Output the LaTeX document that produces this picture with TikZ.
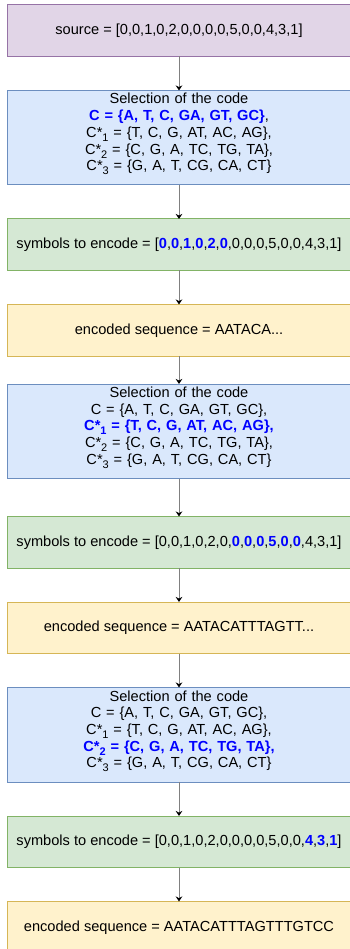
\documentclass[tikz,border=0pt]{standalone}
\usepackage{fontspec}
\setmainfont{Liberation Sans}
\usetikzlibrary{positioning,arrows.meta}

\definecolor{srcfill}{HTML}{E1D5E7}
\definecolor{srcline}{HTML}{9673A6}
\definecolor{selfill}{HTML}{DAE8FC}
\definecolor{selline}{HTML}{6C8EBF}
\definecolor{symfill}{HTML}{D5E8D4}
\definecolor{symline}{HTML}{82B366}
\definecolor{encfill}{HTML}{FFF2CC}
\definecolor{encline}{HTML}{D6B656}
\definecolor{codeblue}{HTML}{0000FF}
\definecolor{arrowgray}{HTML}{808080}

\newcommand{\hiblue}[1]{\textcolor{codeblue}{\textbf{#1}}}
\newcommand{\lowidx}[1]{\raisebox{-4pt}{\fontsize{11pt}{11pt}\selectfont #1}}

\tikzset{
  box/.style={draw,line width=1pt,outer sep=0pt,minimum width=344pt,minimum height=51.5pt,inner sep=2pt,
    font=\fontsize{14.6pt}{16.7pt}\selectfont},
  srcbox/.style={box,fill=srcfill,draw=srcline},
  selbox/.style={box,fill=selfill,draw=selline,inner ysep=0pt,text height=13.5pt,text depth=81pt,
    text width=338pt,align=center},
  symbox/.style={box,fill=symfill,draw=symline},
  encbox/.style={box,fill=encfill,draw=encline}
}

\begin{document}
\begin{tikzpicture}[->,>={Stealth[length=5pt,width=6.5pt,black]},node distance=34pt]
\useasboundingbox (0,0) rectangle (349pt,-949pt);
\node[srcbox,anchor=north] (src) at (179pt,-5pt) {source = [0,0,1,0,2,0,0,0,0,5,0,0,4,3,1]};
\node[selbox] (sel1) [below=of src] {Selection of the code\\
\hiblue{C = \{A, T, C, GA, GT, GC\}},\\
C*\lowidx{1} = \{T, C, G, AT, AC, AG\},\\
C*\lowidx{2} = \{C, G, A, TC, TG, TA\},\\
C*\lowidx{3} = \{G, A, T, CG, CA, CT\}};
\node[symbox] (sym1) [below=of sel1] {symbols to encode = [\hiblue{0},\hiblue{0},\hiblue{1},\hiblue{0},\hiblue{2},\hiblue{0},0,0,0,5,0,0,4,3,1]};
\node[encbox] (enc1) [below=of sym1] {encoded sequence = AATACA...};
\node[selbox] (sel2) [below=28pt of enc1] {Selection of the code\\
C = \{A, T, C, GA, GT, GC\},\\
\hiblue{C*\lowidx{1} = \{T, C, G, AT, AC, AG\},}\\
C*\lowidx{2} = \{C, G, A, TC, TG, TA\},\\
C*\lowidx{3} = \{G, A, T, CG, CA, CT\}};
\node[symbox] (sym2) [below=38pt of sel2] {symbols to encode = [0,0,1,0,2,0,\hiblue{0},\hiblue{0},\hiblue{0},\hiblue{5},\hiblue{0},\hiblue{0},4,3,1]};
\node[encbox] (enc2) [below=of sym2] {encoded sequence = AATACATTTAGTT...};
\node[selbox] (sel3) [below=of enc2] {Selection of the code\\
C = \{A, T, C, GA, GT, GC\},\\
C*\lowidx{1} = \{T, C, G, AT, AC, AG\},\\
\hiblue{C*\lowidx{2} = \{C, G, A, TC, TG, TA\},}\\
C*\lowidx{3} = \{G, A, T, CG, CA, CT\}};
\node[symbox] (sym3) [below=of sel3] {symbols to encode = [0,0,1,0,2,0,0,0,0,5,0,0,\hiblue{4},\hiblue{3},\hiblue{1}]};
\node[encbox] (enc3) [below=of sym3] {encoded sequence = AATACATTTAGTTTGTCC};

\path[draw=arrowgray,line width=1pt] (src) edge (sel1)
(sel1) edge (sym1)
(sym1) edge (enc1)
(enc1) edge (sel2)
(sel2) edge (sym2)
(sym2) edge (enc2)
(enc2) edge (sel3)
(sel3) edge (sym3)
(sym3) edge (enc3);
\end{tikzpicture}
\end{document}
